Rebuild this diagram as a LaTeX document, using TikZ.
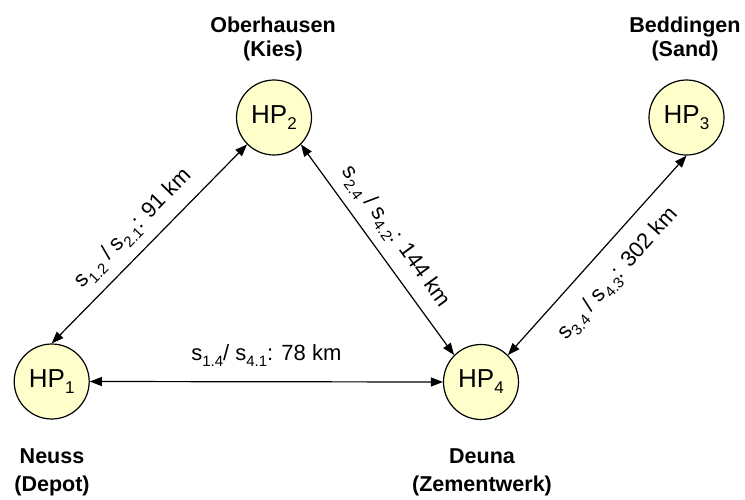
\documentclass[tikz,border=0pt]{standalone}
\usepackage{fontspec}
\setmainfont{Liberation Sans}
\usetikzlibrary{arrows.meta}
\definecolor{hpfill}{RGB}{255,255,204}
% lowered index for the HP labels and for the distance labels
\newcommand\hpix[1]{\raisebox{-6pt}{\fontsize{17}{17}\selectfont #1}}
\newcommand\dix[1]{\raisebox{-6pt}{\fontsize{15}{15}\selectfont #1}}
\begin{document}
\begin{tikzpicture}[x=1pt,y=-1pt,
  hp/.style={circle, draw, line width=1.2pt, fill=hpfill, minimum size=75pt,
             inner sep=0pt, font=\fontsize{26}{26}\selectfont},
  place/.style={align=center, inner sep=0pt, font=\fontsize{21.5}{24}\selectfont\bfseries},
  placelow/.style={align=center, inner sep=0pt, font=\fontsize{21.5}{28.5}\selectfont\bfseries},
  dist/.style={font=\fontsize{22}{24}\selectfont, inner sep=0pt},
  link/.style={line width=1.2pt,
               {Triangle[length=12pt,width=9pt]}-{Triangle[length=12pt,width=9pt]}},
]
\fill[white] (0,0) rectangle (745,499);
\useasboundingbox (0,0) rectangle (745,499);

% stops
\node[hp] (hp1) at (51.7,381.5) {HP\hpix{1}};
\node[hp] (hp2) at (274,117.5) {HP\hpix{2}};
\node[hp] (hp3) at (686.5,117.5) {HP\hpix{3}};
\node[hp] (hp4) at (481,382) {HP\hpix{4}};

% place names
\node[place] (n2) at (273,38.5) {Oberhausen\\(Kies)};
\node[place] (n3) at (685,38.5) {Beddingen\\(Sand)};
\node[placelow] (n1) at (52,472.5) {Neuss\\(Depot)};
\node[placelow] (n4) at (482,472.5) {Deuna\\(Zementwerk)};

% routes with distances
\draw[link] (hp1.north) -- node[dist, sloped, above=10pt]
  {s\dix{1.2} / s\dix{2.1}: 91 km} (hp2.south west);
\draw[link] (hp2.south east) -- node[dist, sloped, above=10pt]
  {s\dix{2.4} / s\dix{4.2}: 144 km} (hp4.north west);
\draw[link] (hp4.north east) -- node[dist, sloped, below=17pt]
  {s\dix{3.4} / s\dix{4.3}: 302 km} (hp3.south);
\draw[link] (hp1.east) -- node[dist, above=15pt]
  {s\dix{1.4}/ s\dix{4.1}: 78 km} (hp4.west);
\end{tikzpicture}
\end{document}
